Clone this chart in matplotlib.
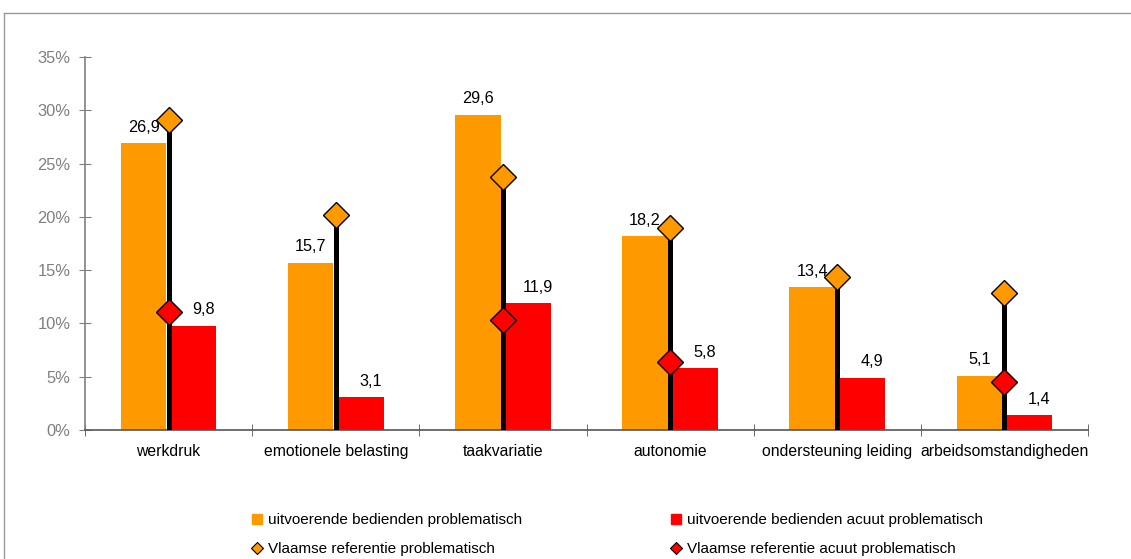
import numpy as np
import matplotlib.pyplot as plt
from matplotlib.lines import Line2D

plt.rcParams['font.family'] = ['Liberation Sans', 'DejaVu Sans']

# data (percent)
categories = ['werkdruk', 'emotionele belasting', 'taakvariatie', 'autonomie',
              'ondersteuning leiding', 'arbeidsomstandigheden']
bedienden_probl = [26.9, 15.7, 29.6, 18.2, 13.4, 5.1]
bedienden_acuut = [9.8, 3.1, 11.9, 5.8, 4.9, 1.4]
vl_ref_probl = [29.1, 20.2, 23.7, 19.0, 14.4, 12.9]
vl_ref_acuut = [11.1, np.nan, 10.3, 6.4, np.nan, 4.5]

orange = '#FF9900'
red = '#FF0000'
grey = '#808080'

fig = plt.figure(figsize=(11.31, 5.59), dpi=100)
ax = fig.add_axes([85 / 1131, 1 - 430 / 559, (1088 - 85) / 1131, (430 - 57) / 559])

x = np.arange(len(categories))
w = 0.272
off = 0.15

ax.bar(x - off, bedienden_probl, w, color=orange, zorder=2)
ax.bar(x + off, bedienden_acuut, w, color=red, zorder=2)

# drop lines from the reference value down to the axis
ax.vlines(x, 0, vl_ref_probl, color='black', lw=3.6, zorder=3)
ax.plot(x, vl_ref_probl, 'D', color=orange, mec='black', mew=1, ms=13.5,
        ls='none', zorder=4, clip_on=False)
ax.plot(x, vl_ref_acuut, 'D', color=red, mec='black', mew=1, ms=13.5,
        ls='none', zorder=4, clip_on=False)

# value labels
for xi, v in zip(x, bedienden_probl):
    ax.annotate(f'{v:.1f}'.replace('.', ','), (xi - off, v), xytext=(0, 6),
                textcoords='offset points', ha='center', va='bottom', fontsize=11.7)
for xi, v in zip(x, bedienden_acuut):
    ax.annotate(f'{v:.1f}'.replace('.', ','), (xi + off, v), xytext=(7, 6),
                textcoords='offset points', ha='center', va='bottom', fontsize=11.7)

ax.set_ylim(0, 35)
ax.set_xlim(-0.5, len(categories) - 0.5)
ax.set_yticks(np.arange(0, 36, 5))
ax.set_yticklabels([f'{t}%' for t in range(0, 36, 5)], color=grey, fontsize=11.9)
ax.set_xticks(x)
ax.set_xticklabels(categories, fontsize=11.3)
ax.set_xticks(np.arange(-0.5, len(categories)), minor=True)
ax.tick_params(axis='x', which='major', length=0, pad=10)
ax.tick_params(axis='x', which='minor', direction='inout', length=9, color='#555555')
ax.tick_params(axis='y', direction='inout', length=9, color=grey, pad=6)

for s in ['top', 'right']:
    ax.spines[s].set_visible(False)
ax.spines['left'].set_color(grey)
ax.spines['bottom'].set_color('#555555')
ax.spines['left'].set_linewidth(1.2)
ax.spines['bottom'].set_linewidth(1.2)

# legend
handles = [
    Line2D([], [], marker='s', color=orange, ls='none', ms=7.5),
    Line2D([], [], marker='D', color=orange, mec='black', mew=0.8, ls='none', ms=6),
    Line2D([], [], marker='s', color=red, ls='none', ms=7.5),
    Line2D([], [], marker='D', color=red, mec='black', mew=0.8, ls='none', ms=6),
]
labels = ['uitvoerende bedienden problematisch', 'Vlaamse referentie problematisch',
          'uitvoerende bedienden acuut problematisch', 'Vlaamse referentie acuut problematisch']
fig.legend(handles, labels, ncol=2, loc='upper left',
           bbox_to_anchor=(251 / 1131, 1 - 513 / 559), frameon=False, fontsize=11,
           handlelength=0.8, handletextpad=0.3, columnspacing=9.7, labelspacing=1.0,
           borderaxespad=0, borderpad=0)

# chart area border
fig.add_artist(Line2D([4 / 1131, 4 / 1131], [0, 1 - 13 / 559], color='#999999', lw=1))
fig.add_artist(Line2D([4 / 1131, 1], [1 - 13 / 559, 1 - 13 / 559], color='#999999', lw=1))

fig.savefig('out.png', dpi=100)
